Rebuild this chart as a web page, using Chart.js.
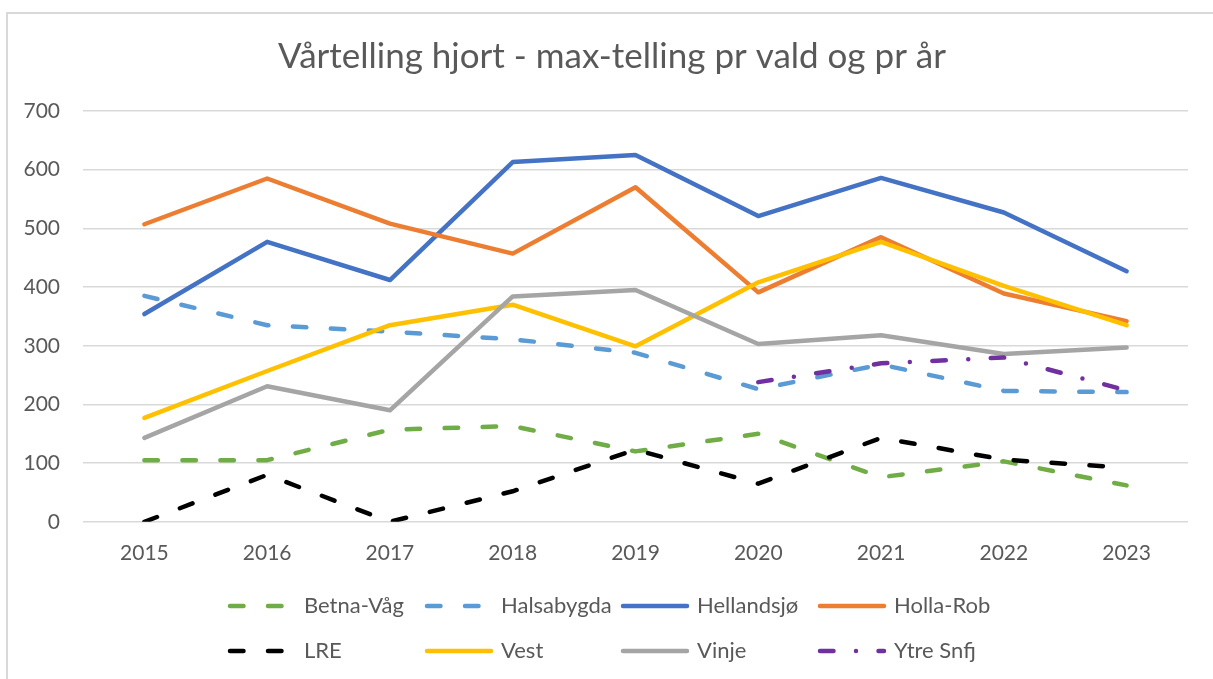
<!DOCTYPE html>
<html>
<head>
<meta charset="utf-8">
<script src="https://cdn.jsdelivr.net/npm/chart.js@4.4.1/dist/chart.umd.min.js"></script>
<style>
  html, body { margin: 0; padding: 0; background: #fff; overflow: hidden; }
  #wrap { position: relative; width: 1213px; height: 679px; }
  #frame { position: absolute; left: 6px; top: 12px; width: 1240px; height: 720px; border: 2px solid #d9d9d9; box-sizing: border-box; }
  canvas { position: absolute; left: 0; top: 0; }
</style>
</head>
<body>
<div id="wrap">
  <div id="frame"></div>
  <canvas id="chart" width="1213" height="679"></canvas>
</div>
<script>
// Data
const years = ['2015', '2016', '2017', '2018', '2019', '2020', '2021', '2022', '2023'];
const yTicks = [0, 100, 200, 300, 400, 500, 600, 700];

const betnaVag   = [105, 105, 157, 163, 120, 150, 76, 103, 62];
const halsabygda = [385, 335, 324, 311, 288, 226, 268, 223, 221];
const hellandsjo = [354, 477, 412, 613, 625, 521, 586, 527, 427];
const hollaRob   = [507, 585, 508, 457, 570, 391, 485, 389, 342];
const lre        = [0, 80, 0, 52, 123, 65, 143, 106, 92];
const vest       = [177, 257, 335, 370, 299, 408, 477, 402, 335];
const vinje      = [143, 231, 190, 384, 395, 303, 318, 286, 297];
const ytreSnfj   = [null, null, null, null, null, 238, 270, 280, 224];

const seriesNames = ['Betna-Våg', 'Halsabygda', 'Hellandsjø', 'Holla-Rob', 'LRE', 'Vest', 'Vinje', 'Ytre Snfj'];
const seriesData = [betnaVag, halsabygda, hellandsjo, hollaRob, lre, vest, vinje, ytreSnfj];
const seriesColors = ['#70AD47', '#5B9BD5', '#4472C4', '#ED7D31', '#000000', '#FFC000', '#A5A5A5', '#7030A0'];

const dash = [13.5, 24.5];
const dashDot = [13.5, 22.5, 0, 22.5];
const seriesDash = [dash, dash, [], [], dash, [], [], dashDot];

const textColor = '#595959';
const fontFamily = 'Lato, "Noto Sans", sans-serif';

// Legend laid out in a 4 x 2 grid like the Excel original
const gridLegend = {
    id: 'gridLegend',
    afterDraw(chart) {
        const ctx = chart.ctx;
        const cols = [228, 425, 621, 818];
        const rows = [606, 651];
        const markLen = 68;
        ctx.save();
        ctx.font = '22px ' + fontFamily;
        ctx.textBaseline = 'middle';
        ctx.fillStyle = textColor;
        chart.data.datasets.forEach((ds, i) => {
            const x = cols[i % 4];
            const y = rows[Math.floor(i / 4)];
            ctx.beginPath();
            ctx.strokeStyle = ds.borderColor;
            ctx.lineWidth = ds.borderWidth;
            ctx.lineCap = 'round';
            ctx.setLineDash(ds.borderDash);
            ctx.moveTo(x + 2, y);
            ctx.lineTo(x + markLen - 2, y);
            ctx.stroke();
            ctx.setLineDash([]);
            ctx.fillText(ds.label, x + markLen + 8, y);
        });
        ctx.restore();
    }
};

const datasets = seriesNames.map((name, i) => ({
    label: name,
    data: seriesData[i],
    borderColor: seriesColors[i],
    backgroundColor: seriesColors[i],
    borderWidth: 4.5,
    borderDash: seriesDash[i],
    borderCapStyle: 'round',
    borderJoinStyle: 'round',
    pointRadius: 0,
    tension: 0,
    spanGaps: false,
    order: seriesNames.length - i
}));

new Chart(document.getElementById('chart').getContext('2d'), {
    type: 'line',
    data: { labels: years, datasets: datasets },
    options: {
        responsive: false,
        animation: false,
        layout: { padding: { top: 0, right: 0, bottom: 94, left: 11 } },
        plugins: {
            legend: { display: false },
            tooltip: { enabled: false },
            title: {
                display: true,
                text: 'Vårtelling hjort - max-telling pr vald og pr år',
                color: textColor,
                font: { family: fontFamily, size: 35, weight: 'normal' },
                padding: { top: 36, bottom: 33 }
            }
        },
        scales: {
            x: {
                offset: true,
                grid: { display: false, drawTicks: false },
                border: { display: false },
                ticks: { color: textColor, padding: 19, maxRotation: 0, font: { family: fontFamily, size: 21 } }
            },
            y: {
                min: 0,
                max: 700,
                afterBuildTicks(axis) { axis.ticks = yTicks.map(v => ({ value: v })); },
                afterFit(axis) { axis.width = 72; },
                grid: { color: '#D9D9D9', lineWidth: 1.5, drawTicks: false },
                border: { display: false },
                ticks: { color: textColor, padding: 23, font: { family: fontFamily, size: 21 } }
            },
            // empty right-hand spacer so the plot ends where the original does
            yRight: {
                position: 'right',
                grid: { display: false, drawTicks: false },
                border: { display: false },
                ticks: { display: false },
                afterFit(axis) { axis.width = 25; }
            }
        }
    },
    plugins: [gridLegend]
});
</script>
</body>
</html>
